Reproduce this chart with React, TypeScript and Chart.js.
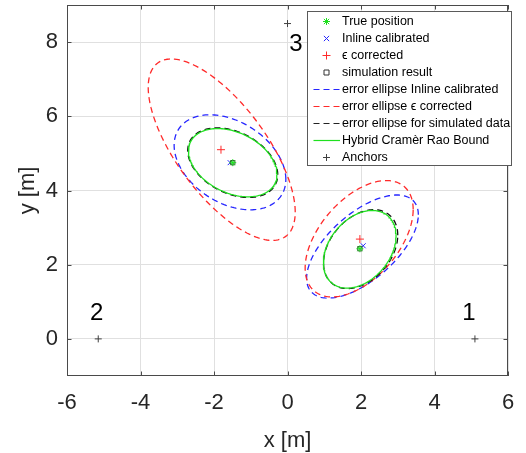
import React, { useEffect, useRef } from 'react';
import { Chart, registerables } from 'chart.js';

Chart.register(...registerables);

const FONT = "'Liberation Sans', Arial, Helvetica, sans-serif";

// ---- data ----
const xTickValues = [-6, -4, -2, 0, 2, 4, 6];
const yTickValues = [0, 2, 4, 6, 8];

const truePosX = [-1.49, 1.97];
const truePosY = [4.75, 2.43];
const inlineX = [-1.56, 2.06];
const inlineY = [4.75, 2.51];
const epsX = [-1.81, 1.97];
const epsY = [5.1, 2.69];
const simX = [-1.49, 1.97];
const simY = [4.75, 2.43];

const anchorX = [5.1, -5.15, 0];
const anchorY = [0, 0, 8.5];
const anchorLabels = ['1', '2', '3'];
const anchorLabelX = [4.94, -5.19, 0.23];
const anchorLabelY = [0.68, 0.68, 7.93];

// error ellipses: [centerX, centerY, varX, varY, covXY]
const inlineEllipses = [
  [-1.565, 4.76, 2.31, 1.64, -0.7],
  [2.04, 2.49, 2.31, 1.93, 1.3],
];
const epsEllipses = [
  [-1.79, 5.1, 4.0, 5.98, -3.36],
  [1.95, 2.7, 2.16, 2.46, 1.16],
];
const simEllipses = [
  [-1.49, 4.75, 1.5, 0.88, -0.4],
  [1.99, 2.42, 1.02, 1.13, 0.38],
];
const crbEllipses = [
  [-1.49, 4.75, 1.452, 0.846, -0.38],
  [1.965, 2.415, 0.978, 1.096, 0.36],
];

const legendLabels = [
  'True position',
  'Inline calibrated',
  '\u03F5 corrected',
  'simulation result',
  'error ellipse Inline calibrated',
  'error ellipse \u03F5 corrected',
  'error ellipse for simulated data',
  'Hybrid Cram\u00E8r Rao Bound',
  'Anchors',
];

// ---- styles ----
const GREEN = '#1fe01f';
const BLUE = '#2626ff';
const RED = '#ff2a2a';
const ANCHOR = '#404040';

function zipPts(xs: number[], ys: number[]) {
  return xs.map((x, i) => ({ x, y: ys[i] }));
}

function ellipsePoints(p: number[], n = 180) {
  const [cx, cy, vx, vy, cxy] = p;
  const a = Math.sqrt(vx);
  const c = cxy / a;
  const d = Math.sqrt(vy - c * c);
  const pts: { x: number; y: number }[] = [];
  for (let i = 0; i <= n; i++) {
    const t = (2 * Math.PI * i) / n;
    pts.push({ x: cx + a * Math.cos(t), y: cy + c * Math.cos(t) + d * Math.sin(t) });
  }
  return pts;
}

function drawMarker(ctx: CanvasRenderingContext2D, style: string, x: number, y: number, r: number, color: string) {
  ctx.save();
  ctx.strokeStyle = color;
  ctx.lineWidth = 1;
  ctx.beginPath();
  if (style === 'cross' || style === 'star') {
    ctx.moveTo(x - r, y);
    ctx.lineTo(x + r, y);
    ctx.moveTo(x, y - r);
    ctx.lineTo(x, y + r);
  }
  if (style === 'crossRot' || style === 'star') {
    const q = r * 0.75;
    ctx.moveTo(x - q, y - q);
    ctx.lineTo(x + q, y + q);
    ctx.moveTo(x - q, y + q);
    ctx.lineTo(x + q, y - q);
  }
  if (style === 'rect') {
    ctx.rect(x - r, y - r, 2 * r, 2 * r);
  }
  ctx.stroke();
  ctx.restore();
}

const legendStyles = [
  { kind: 'marker', style: 'star', color: GREEN, r: 3.5 },
  { kind: 'marker', style: 'crossRot', color: BLUE, r: 3.5 },
  { kind: 'marker', style: 'cross', color: RED, r: 4 },
  { kind: 'marker', style: 'rect', color: '#333333', r: 2.5 },
  { kind: 'line', color: BLUE, dash: [6, 4] },
  { kind: 'line', color: RED, dash: [6, 4] },
  { kind: 'line', color: '#222222', dash: [6, 4] },
  { kind: 'line', color: GREEN, dash: [] as number[] },
  { kind: 'marker', style: 'cross', color: ANCHOR, r: 3.5 },
];

const overlayPlugin = {
  id: 'overlay',
  afterDatasetsDraw(chart: any) {
    const { ctx, chartArea } = chart;
    const xs = chart.scales.x;
    const ys = chart.scales.y;
    ctx.save();
    ctx.strokeStyle = '#4a4a4a';
    ctx.lineWidth = 1;
    ctx.strokeRect(
      Math.round(chartArea.left) + 0.5,
      Math.round(chartArea.top) + 0.5,
      Math.round(chartArea.right - chartArea.left) - 1,
      Math.round(chartArea.bottom - chartArea.top) - 1
    );
    const tl = 4.5;
    ctx.beginPath();
    xTickValues.forEach((v) => {
      const px = Math.round(xs.getPixelForValue(v)) + 0.5;
      ctx.moveTo(px, chartArea.bottom);
      ctx.lineTo(px, chartArea.bottom - tl);
      ctx.moveTo(px, chartArea.top);
      ctx.lineTo(px, chartArea.top + tl);
    });
    yTickValues.forEach((v) => {
      const py = Math.round(ys.getPixelForValue(v)) + 0.5;
      ctx.moveTo(chartArea.left, py);
      ctx.lineTo(chartArea.left + tl, py);
      ctx.moveTo(chartArea.right, py);
      ctx.lineTo(chartArea.right - tl, py);
    });
    ctx.stroke();

    // anchor labels
    ctx.fillStyle = '#000000';
    ctx.font = `24px ${FONT}`;
    ctx.textAlign = 'center';
    ctx.textBaseline = 'middle';
    anchorLabels.forEach((t, i) => {
      ctx.fillText(t, xs.getPixelForValue(anchorLabelX[i]), ys.getPixelForValue(anchorLabelY[i]));
    });
    ctx.restore();
  },
  afterDraw(chart: any) {
    const { ctx } = chart;
    const bx = 307.5, by = 11.5, bw = 204, bh = 154;
    ctx.save();
    ctx.fillStyle = '#ffffff';
    ctx.fillRect(bx, by, bw, bh);
    ctx.strokeStyle = '#5a5a5a';
    ctx.lineWidth = 1;
    ctx.strokeRect(bx, by, bw, bh);
    ctx.font = `12.5px ${FONT}`;
    ctx.textAlign = 'left';
    ctx.textBaseline = 'middle';
    legendLabels.forEach((label, i) => {
      const cy = 21.5 + i * 17;
      const s: any = legendStyles[i];
      if (s.kind === 'marker') {
        drawMarker(ctx, s.style, 326.5, cy, s.r, s.color);
      } else {
        ctx.save();
        ctx.strokeStyle = s.color;
        ctx.lineWidth = 1.2;
        ctx.setLineDash(s.dash);
        ctx.beginPath();
        ctx.moveTo(313.5, cy);
        ctx.lineTo(340, cy);
        ctx.stroke();
        ctx.restore();
      }
      ctx.fillStyle = '#000000';
      ctx.fillText(label, 342, cy + 0.5);
    });
    ctx.restore();
  },
};

function ellipseDatasets(list: number[][], label: string, color: string, dash: number[]) {
  return list.map((p, i) => ({
    label: `${label} ${i + 1}`,
    data: ellipsePoints(p),
    showLine: true,
    borderColor: color,
    borderWidth: 1.3,
    borderDash: dash,
    pointRadius: 0,
    fill: false,
    tension: 0,
  }));
}

export default function App() {
  const ref = useRef<HTMLCanvasElement | null>(null);

  useEffect(() => {
    if (!ref.current) return;
    const datasets: any[] = [
      { label: legendLabels[8], data: zipPts(anchorX, anchorY), pointStyle: 'cross', pointRadius: 3.5, borderColor: ANCHOR, borderWidth: 1, showLine: false },
      { label: legendLabels[0], data: zipPts(truePosX, truePosY), pointStyle: 'star', pointRadius: 3.5, borderColor: GREEN, borderWidth: 1, showLine: false },
      { label: legendLabels[3], data: zipPts(simX, simY), pointStyle: 'rect', pointRadius: 3, borderColor: '#333333', backgroundColor: 'rgba(0,0,0,0)', borderWidth: 1, showLine: false },
      { label: legendLabels[1], data: zipPts(inlineX, inlineY), pointStyle: 'crossRot', pointRadius: 3.5, borderColor: BLUE, borderWidth: 1, showLine: false },
      { label: legendLabels[2], data: zipPts(epsX, epsY), pointStyle: 'cross', pointRadius: 4, borderColor: RED, borderWidth: 1, showLine: false },
      ...ellipseDatasets(crbEllipses, legendLabels[7], GREEN, []),
      ...ellipseDatasets(simEllipses, legendLabels[6], '#111111', [6, 4]),
      ...ellipseDatasets(epsEllipses, legendLabels[5], RED, [6, 4]),
      ...ellipseDatasets(inlineEllipses, legendLabels[4], BLUE, [6, 4]),
    ];

    const chart = new Chart(ref.current, {
      type: 'scatter',
      data: { datasets },
      options: {
        responsive: false,
        animation: false,
        layout: { padding: { left: 0, right: 18, top: 5, bottom: 0 } },
        plugins: { legend: { display: false }, tooltip: { enabled: false } },
        scales: {
          x: {
            type: 'linear',
            min: -6,
            max: 6,
            afterBuildTicks: (axis: any) => {
              axis.ticks = xTickValues.map((v) => ({ value: v }));
            },
            afterFit: (scale: any) => {
              scale.height = 77;
              scale.paddingLeft = 0;
              scale.paddingRight = 0;
              scale.paddingTop = 0;
              scale.paddingBottom = 0;
            },
            ticks: { font: { family: FONT, size: 22 }, color: '#262626', padding: 14, maxRotation: 0, autoSkip: false },
            grid: { color: '#e0e0e0', drawTicks: false },
            border: { display: false },
            title: { display: true, text: 'x [m]', font: { family: FONT, size: 22, lineHeight: 1 }, color: '#262626', padding: { top: 0, bottom: 1 } },
          },
          y: {
            type: 'linear',
            min: -1,
            max: 9,
            afterBuildTicks: (axis: any) => {
              axis.ticks = yTickValues.map((v) => ({ value: v }));
            },
            afterFit: (scale: any) => {
              scale.width = 67;
              scale.paddingLeft = 0;
              scale.paddingRight = 0;
              scale.paddingTop = 0;
              scale.paddingBottom = 0;
            },
            ticks: { font: { family: FONT, size: 22 }, color: '#262626', padding: 9, autoSkip: false },
            grid: { color: '#e0e0e0', drawTicks: false },
            border: { display: false },
            title: { display: true, text: 'y [m]', font: { family: FONT, size: 22, lineHeight: 1 }, color: '#262626', padding: { top: 17, bottom: 0 } },
          },
        },
      },
      plugins: [overlayPlugin],
    });
    return () => chart.destroy();
  }, []);

  return (
    <div style={{ position: 'absolute', left: 0, top: 0, width: 526, height: 453, background: '#ffffff' }}>
      <canvas ref={ref} width={526} height={453} />
    </div>
  );
}
